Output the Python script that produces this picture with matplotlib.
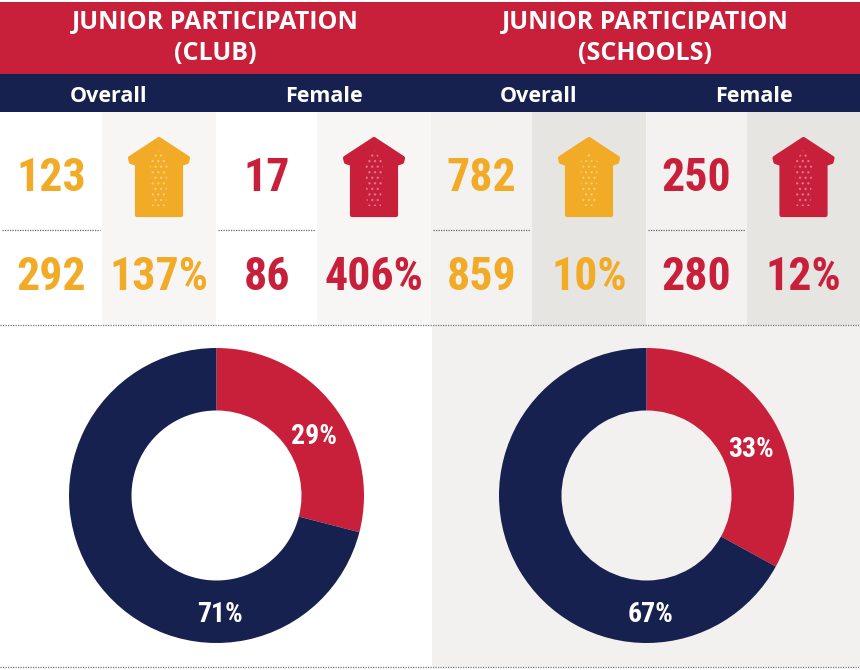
import matplotlib
matplotlib.use("Agg")
import numpy as np
import matplotlib.pyplot as plt
from matplotlib import font_manager
from matplotlib.patches import Rectangle, Polygon

# ---------------- data ----------------
sections = ["JUNIOR PARTICIPATION\n(CLUB)", "JUNIOR PARTICIPATION\n(SCHOOLS)"]
groups = ["Overall", "Female"]
before_club = [123, 17]
after_club = [292, 86]
growth_club = ["137%", "406%"]
before_schools = [782, 250]
after_schools = [859, 280]
growth_schools = ["10%", "12%"]
female_share_club = [29, 71]      # female, male
female_share_schools = [33, 67]

# ---------------- style ----------------
RED = "#C8203A"
NAVY = "#172150"
GOLD = "#F2AB27"
W, H = 860, 670

names = {f.name for f in font_manager.fontManager.ttflist}
cond = None
for cand in ["Roboto Condensed", "Liberation Sans Narrow", "Open Sans Condensed",
             "DejaVu Sans Condensed"]:
    if cand in names:
        cond = cand
        break
if cond is None:
    cond = "DejaVu Sans"
COND = dict(family=cond, weight="bold", stretch="condensed")
HEAD = dict(family="Open Sans", weight="bold")

fig = plt.figure(figsize=(W / 100, H / 100), dpi=100)
ax = fig.add_axes([0, 0, 1, 1])
ax.set_xlim(0, W)
ax.set_ylim(0, H)
ax.axis("off")


def Y(y):
    return H - y


def rect(x0, y0, x1, y1, color, z=0):
    ax.add_patch(Rectangle((x0, Y(y1)), x1 - x0, y1 - y0, color=color, lw=0, zorder=z))


# backgrounds
rect(0, 0, W, H, "white", -1)
rect(0, 2, W, 74, RED)
rect(0, 74, W, 112, NAVY)
col_edges = [0, 102, 216, 317, 431, 532, 646, 747, 860]
cell_bg = ["white", "#F7F6F5", "white", "#F7F6F5",
           "#F3F2F0", "#E6E5E2", "#F3F2F0", "#E6E5E2"]
for i in range(8):
    rect(col_edges[i], 112, col_edges[i + 1], 325, cell_bg[i])
rect(432, 325, W, 667, "#F2F1EF")

# dotted separators
for i in [0, 2, 4, 6]:
    ax.plot([col_edges[i] + 2, col_edges[i + 1] - 2], [Y(230), Y(230)],
            ls=(0, (1, 1)), color="#666666", lw=0.9, zorder=3)
for yy in [325, 667]:
    ax.plot([0, W], [Y(yy), Y(yy)], ls=(0, (1, 1)), color="#777777", lw=0.9, zorder=3)

# header texts
for k, title in enumerate(sections):
    cx = 215 + 430 * k
    ax.text(cx, Y(38), title, ha="center", va="center", color="white",
            fontsize=18, linespacing=1.3, **HEAD)
    for j, g in enumerate(groups):
        gx = [109, 324][j] + 430 * k
        ax.text(gx, Y(96), g, ha="center", va="center", color="white",
                fontsize=15.5, **HEAD)


def arrow(cx, color):
    pts = [(0, 139), (29, 158), (28, 162), (22, 164), (22, 215),
           (-22, 215), (-22, 164), (-28, 162), (-29, 158)]
    ax.add_patch(Polygon([(cx + dx, Y(dy)) for dx, dy in pts], closed=True,
                         facecolor=color, edgecolor=color, lw=3,
                         joinstyle="round", zorder=4))
    core = [(0, 150), (9, 162), (7, 206), (-7, 206), (-9, 162)]
    ax.add_patch(Polygon([(cx + dx, Y(dy)) for dx, dy in core], closed=True,
                         fill=False, edgecolor=(1, 1, 1, 0.3), hatch="...",
                         lw=0, zorder=5))


plt.rcParams["hatch.linewidth"] = 1.0
NUM_FS = 33
blocks = [(before_club, after_club, growth_club), (before_schools, after_schools, growth_schools)]
for k, (bef, aft, gro) in enumerate(blocks):
    for j in range(2):
        color = GOLD if j == 0 else RED
        base = 4 * k + 2 * j
        xn = (col_edges[base] + col_edges[base + 1]) / 2
        xa = (col_edges[base + 1] + col_edges[base + 2]) / 2
        ax.text(xn, Y(178), str(bef[j]), ha="center", va="center", color=color,
                fontsize=NUM_FS, **COND, zorder=6)
        ax.text(xn, Y(277), str(aft[j]), ha="center", va="center", color=color,
                fontsize=NUM_FS, **COND, zorder=6)
        ax.text(xa, Y(277), gro[j], ha="center", va="center", color=color,
                fontsize=NUM_FS, **COND, zorder=6)
        arrow(xa, color)

# donuts
R, WID = 147.5, 62.5
for cx, share in [(216.5, female_share_club), (646.5, female_share_schools)]:
    cy = Y(495.5)
    wedges, _ = ax.pie(share, colors=[RED, NAVY], startangle=90, counterclock=False,
                       center=(cx, cy), radius=R,
                       wedgeprops=dict(width=WID, linewidth=0))
    w0 = wedges[0]
    mid = np.deg2rad((w0.theta1 + w0.theta2) / 2 - 6)
    rl = R - WID / 2 - 1
    ax.text(cx + rl * np.cos(mid), cy + rl * np.sin(mid) - 2, f"{share[0]}%",
            ha="center", va="center", color="white", fontsize=20, **COND, zorder=6)
    ax.text(cx + 4, cy - (R - WID / 2) - 3, f"{share[1]}%",
            ha="center", va="center", color="white", fontsize=20, **COND, zorder=6)

ax.set_xlim(0, W)
ax.set_ylim(0, H)
ax.set_aspect("auto")
ax.axis("off")

fig.savefig("out.png", dpi=100)
